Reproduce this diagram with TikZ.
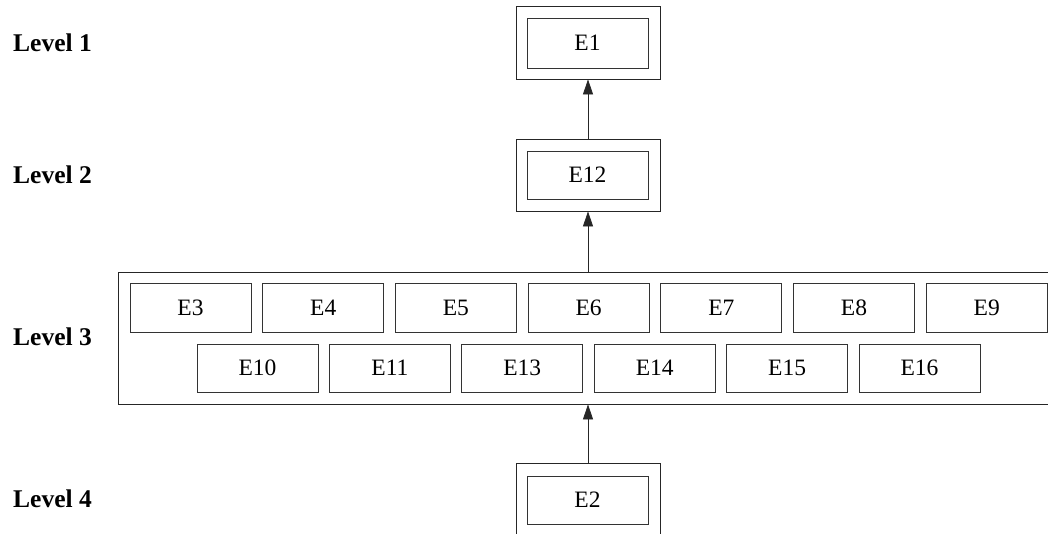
\documentclass[tikz,border=0pt]{standalone}
\usepackage{fontspec}
\setmainfont{Liberation Serif}
\usetikzlibrary{arrows.meta}
\begin{document}
\begin{tikzpicture}[x=1pt,y=-1pt,
  ebox/.style={draw=black!80, line width=0.8pt, minimum width=121pt, minimum height=49pt, inner sep=0pt, font=\fontsize{23.5}{28}\selectfont},
  outerbox/.style={draw=black!85, line width=0.8pt, minimum width=144pt, minimum height=73pt, inner sep=0pt},
  lvl/.style={font=\bfseries\fontsize{25.5}{30}\selectfont, anchor=base west, inner sep=0pt},
  arr/.style={-{Triangle[length=15pt,width=10pt]}, line width=0.8pt, draw=black!85}]
\useasboundingbox (0,0) rectangle (1048,533);
\fill[white] (0,0) rectangle (1048,533);
\clip (0,0) rectangle (1048,533);
% Level 1
\node[outerbox] (o1) at (588,42.5) {};
\node[ebox, minimum height=50pt] (e1) at (587.5,43) {E1};
% Level 2
\node[outerbox, minimum height=72pt] (o12) at (588,175) {};
\node[ebox, minimum height=48pt] (e12) at (587.5,175) {E12};
% Level 3
\node[draw=black!85, line width=0.8pt, minimum width=932pt, minimum height=132pt, inner sep=0pt] (l3) at (584,338) {};
\foreach \n [count=\k from 0] in {3,4,5,6,7,8,9}
  \node[ebox] (e\n) at ({190.5+\k*132.7},307.5) {E\n};
\foreach \n [count=\k from 0] in {10,11,13,14,15,16}
  \node[ebox, minimum height=48pt] (e\n) at ({257.5+\k*132.4},368) {E\n};
% Level 4
\node[outerbox, minimum height=90pt] (o2) at (588,508) {};
\node[ebox, minimum height=48pt] (e2) at (587.5,500) {E2};
% arrows
\draw[arr] (o12.north) -- (o1.south);
\draw[arr] (l3.north -| o12.south) -- (o12.south);
\draw[arr] (o2.north) -- (o2.north |- l3.south);
% labels
\node[lvl] (lv1) at (13,51) {Level 1};
\node[lvl] (lv2) at (13,183) {Level 2};
\node[lvl] (lv3) at (13,345) {Level 3};
\node[lvl] (lv4) at (13,507) {Level 4};
\end{tikzpicture}
\end{document}
